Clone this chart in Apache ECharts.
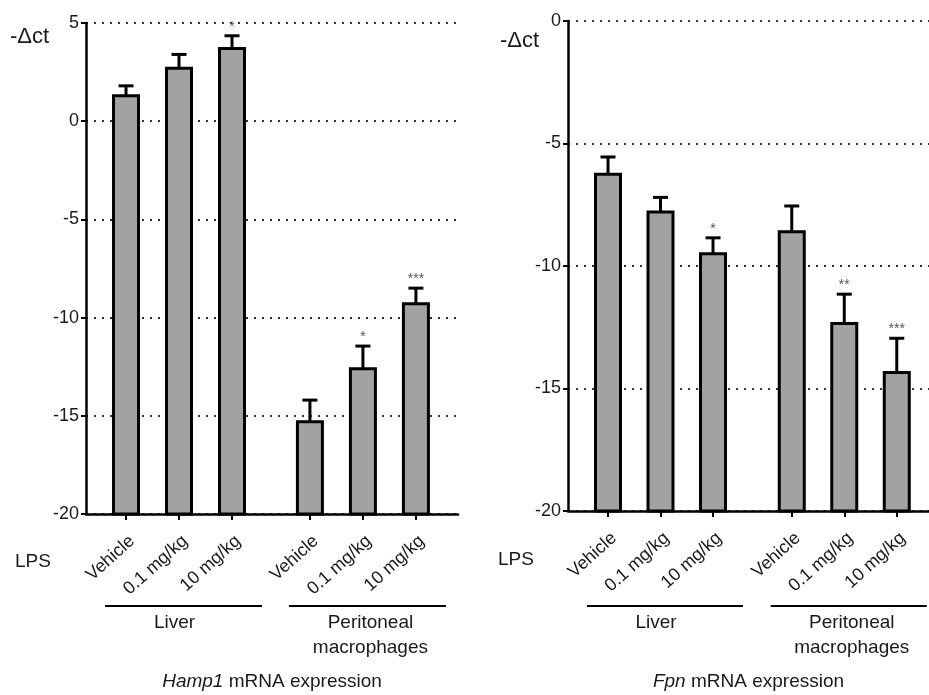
<!DOCTYPE html>
<html><head><meta charset="utf-8">
<script src="https://cdn.jsdelivr.net/npm/echarts@6/dist/echarts.min.js"></script>
<style>html,body{margin:0;padding:0;background:#fff}#c{width:929px;height:695px}</style>
</head><body><div id="c"></div>
<script>
// ---- data ----
const categories = ['Vehicle', '0.1 mg/kg', '10 mg/kg', 'Vehicle', '0.1 mg/kg', '10 mg/kg'];
const groupNames = ['Liver', 'Peritoneal\nmacrophages'];
const groupOf = [0, 0, 0, 1, 1, 1];
const hampMean = [1.3, 2.7, 3.7, -15.3, -12.6, -9.3];
const hampUpper = [1.8, 3.4, 4.35, -14.2, -11.45, -8.5];
const hampSig = ['', '', '*', '', '*', '***'];
const fpnMean = [-6.25, -7.8, -9.5, -8.6, -12.35, -14.35];
const fpnUpper = [-5.55, -7.2, -8.85, -7.55, -11.15, -12.95];
const fpnSig = ['', '', '*', '', '**', '***'];
const hampAxis = { min: -20, max: 5, interval: 5 };
const fpnAxis = { min: -20, max: 0, interval: 5 };
const yName = '-\u0394ct';
const xName = 'LPS';
const hampTitle = '{i|Hamp1} mRNA expression';
const fpnTitle = '{i|Fpn} mRNA expression';

// ---- layout helpers ----
const FONT = 'Liberation Sans, Arial, sans-serif';
const TXT = '#1a1a1a';
function positions(gap) { return categories.map((c, i) => 1 + i + (groupOf[i] > 0 ? gap : 0)); }
const posL = positions(0.47), posR = positions(0.5);

function makeRender(yMin, sig) {
  return function (params, api) {
    const x = api.value(0), m = api.value(1), u = api.value(2);
    const top = api.coord([x, m]);
    const base = api.coord([x, yMin]);
    const up = api.coord([x, u]);
    const w = 25;
    const children = [
      { type: 'line', shape: { x1: top[0], y1: top[1], x2: up[0], y2: up[1] }, style: { stroke: '#000', lineWidth: 3 } },
      { type: 'line', shape: { x1: up[0] - 7.5, y1: up[1], x2: up[0] + 7.5, y2: up[1] }, style: { stroke: '#000', lineWidth: 3 } },
      { type: 'rect', shape: { x: top[0] - w / 2, y: top[1], width: w, height: base[1] - top[1] }, style: { fill: '#a2a2a2', stroke: '#000', lineWidth: 3 } }
    ];
    const s = sig[params.dataIndex];
    if (s) children.push({ type: 'text', x: up[0], y: up[1] - 2, style: { text: s, fill: '#555', font: '14px ' + FONT, textAlign: 'center', textVerticalAlign: 'bottom' } });
    return { type: 'group', children };
  };
}

function xAxisCfg(gridIndex, pos, min, max) {
  return {
    type: 'value', gridIndex, min, max,
    splitLine: { show: false },
    axisLine: { onZero: false, lineStyle: { color: '#000', width: 2.5 } },
    axisTick: { customValues: pos, length: 6, lineStyle: { color: '#000', width: 2 } },
    axisLabel: {
      customValues: pos, rotate: 42, margin: 18, fontSize: 18, color: TXT, fontFamily: FONT,
      verticalAlign: 'top',
      formatter: v => { const i = pos.findIndex(p => Math.abs(p - v) < 1e-6); return i >= 0 ? categories[i] : ''; }
    }
  };
}
function yAxisCfg(gridIndex, ax) {
  return {
    type: 'value', gridIndex, min: ax.min, max: ax.max, interval: ax.interval,
    axisLine: { show: true, lineStyle: { color: '#000', width: 2.5 } },
    axisTick: { show: true, length: 5, lineStyle: { color: '#000', width: 2 } },
    axisLabel: { fontSize: 18, color: TXT, fontFamily: FONT, margin: 7 },
    splitLine: { show: true, lineStyle: { color: '#333', width: 2, type: [2, 6] } }
  };
}

const chart = echarts.init(document.getElementById('c'), null, { renderer: 'canvas' });
const option = {
  animation: false,
  backgroundColor: '#fff',
  grid: [
    { left: 86, top: 23, width: 372, height: 491 },
    { left: 568, top: 21, width: 361, height: 490 }
  ],
  xAxis: [xAxisCfg(0, posL, 0.245, 7.264), xAxisCfg(1, posR, 0.238, 7.114)],
  yAxis: [yAxisCfg(0, hampAxis), yAxisCfg(1, fpnAxis)],
  series: [
    { type: 'custom', xAxisIndex: 0, yAxisIndex: 0, renderItem: makeRender(hampAxis.min, hampSig),
      data: hampMean.map((v, i) => [posL[i], v, hampUpper[i]]), clip: false },
    { type: 'custom', xAxisIndex: 1, yAxisIndex: 1, renderItem: makeRender(fpnAxis.min, fpnSig),
      data: fpnMean.map((v, i) => [posR[i], v, fpnUpper[i]]), clip: false }
  ]
};
chart.setOption(option);

// ---- annotations: group brackets, titles ----
function annotations(gridIndex, pos, lpsX, lpsY, nameX, nameY, titleText) {
  const els = [];
  const toX = v => chart.convertToPixel({ gridIndex }, [v, 0])[0];
  const labelShift = [-9, 3];
  [0, 1].forEach(g => {
    const idx = categories.map((c, i) => i).filter(i => groupOf[i] === g);
    const x1 = toX(pos[idx[0]]) - 21, x2 = toX(pos[idx[idx.length - 1]]) + 30;
    els.push({ type: 'line', shape: { x1, y1: 606, x2, y2: 606 }, style: { stroke: '#000', lineWidth: 2 } });
    els.push({ type: 'text', x: (x1 + x2) / 2 + labelShift[g], y: 610, style: { text: groupNames[g], font: '19px ' + FONT, fill: TXT, textAlign: 'center', textVerticalAlign: 'top', lineHeight: 25 } });
  });
  const gx1 = toX(chart.getModel().getComponent('xAxis', gridIndex).get('min'));
  const gx2 = toX(chart.getModel().getComponent('xAxis', gridIndex).get('max'));
  els.push({ type: 'text', x: lpsX, y: lpsY, style: { text: xName, font: '19px ' + FONT, fill: TXT, textAlign: 'left', textVerticalAlign: 'middle' } });
  els.push({ type: 'text', x: nameX, y: nameY, style: { text: yName, font: '22px ' + FONT, fill: TXT, textAlign: 'left', textVerticalAlign: 'middle' } });
  els.push({ type: 'text', x: (gx1 + gx2) / 2, y: 682, style: { text: titleText, font: '19px ' + FONT, fill: TXT, textAlign: 'center', textVerticalAlign: 'middle', rich: { i: { fontStyle: 'italic', fontSize: 19, fontFamily: FONT, fill: TXT } } } });
  return els;
}
chart.setOption({
  graphic: [
    ...annotations(0, posL, 15, 562, 10, 37, hampTitle),
    ...annotations(1, posR, 498, 560, 500, 41, fpnTitle)
  ]
});
</script></body></html>
